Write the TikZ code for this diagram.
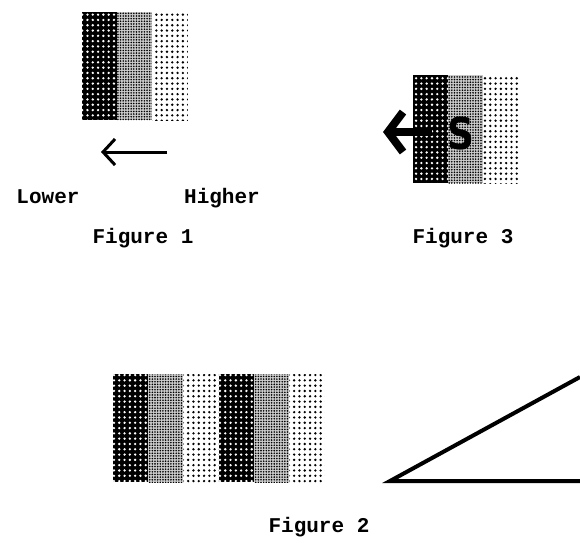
\documentclass[tikz,border=0pt]{standalone}
\usepackage{fontspec}
\setmonofont{Liberation Mono}
\newfontfamily\bandletter{DejaVu Sans}
\usetikzlibrary{arrows.meta,positioning,patterns}
\pgfdeclarepatternformonly{coarse dots}{\pgfqpoint{-1pt}{-1pt}}{\pgfqpoint{6.3pt}{6.3pt}}{\pgfqpoint{5.3pt}{5.3pt}}{%
  \pgfpathcircle{\pgfqpoint{2.65pt}{2.65pt}}{1.3pt}\pgfusepath{fill}}
\pgfdeclarepatternformonly{fine dots}{\pgfqpoint{-1pt}{-1pt}}{\pgfqpoint{3.6pt}{3.6pt}}{\pgfqpoint{2.65pt}{2.65pt}}{%
  \pgfpathcircle{\pgfqpoint{1.3pt}{1.3pt}}{0.9pt}\pgfusepath{fill}}
\tikzset{
  band/.style={minimum width=35.3pt,minimum height=108pt,inner sep=0pt,outer sep=0pt},
  dark band/.style={band,preaction={fill=black},pattern=coarse dots,pattern color=white},
  mid band/.style={band,preaction={fill=black!20},pattern=fine dots,pattern color=black},
  light band/.style={band,preaction={fill=white},pattern=coarse dots,pattern color=black},
  caption/.style={font=\ttfamily\bfseries\fontsize{21}{25}\selectfont,inner sep=0pt,anchor=base}
}

\begin{document}
\begin{tikzpicture}[x=1pt,y=-1pt]
\useasboundingbox (0,0) rectangle (580,542);

% Figure 1
\node[dark band] (a1) at (99.5,66) {};
\node[mid band,right=0pt of a1] (b1) {};
\node[light band,right=0pt of b1] (c1) {};
\coordinate (h1) at (167,152);
\coordinate (l1) at (101,152);
\draw[line width=3pt,-{Straight Barb[length=12pt,width=26pt]}] (h1) to (l1);
\node[caption] (lower) at (48,203) {Lower};
\node[caption] (higher) at (222,203) {Higher};
\node[caption] (fig1) at (143,243) {Figure 1};

% Figure 3
\node[dark band] (a3) at (430.5,129) {};
\node[mid band,right=0pt of a3] (b3) {};
\node[light band,right=0pt of b3] (c3) {};
\node[font=\bandletter\bfseries\fontsize{44}{44}\selectfont,inner sep=0pt] (s3) at (461,133) {\scalebox{0.85}[1]{S}};
\coordinate (h3) at (432,132);
\coordinate (l3) at (383,132);
\draw[line width=8pt,-{Straight Barb[length=15pt,width=40pt]}] (h3) to (l3);
\node[caption] (fig3) at (463,243) {Figure 3};

% Figure 2
\node[dark band] (a2) at (130.5,428) {};
\node[mid band,right=0pt of a2] (b2) {};
\node[light band,right=0pt of b2] (c2) {};
\node[dark band,right=0pt of c2] (d2) {};
\node[mid band,right=0pt of d2] (e2) {};
\node[light band,right=0pt of e2] (f2) {};
\coordinate (o2) at (390,481);
\coordinate (t2) at (580,377);
\coordinate (r2) at (580,481);
\draw[line width=4pt] (t2) -- (o2) -- (r2);
\node[caption] (fig2) at (319,532) {Figure 2};

\end{tikzpicture}
\end{document}
